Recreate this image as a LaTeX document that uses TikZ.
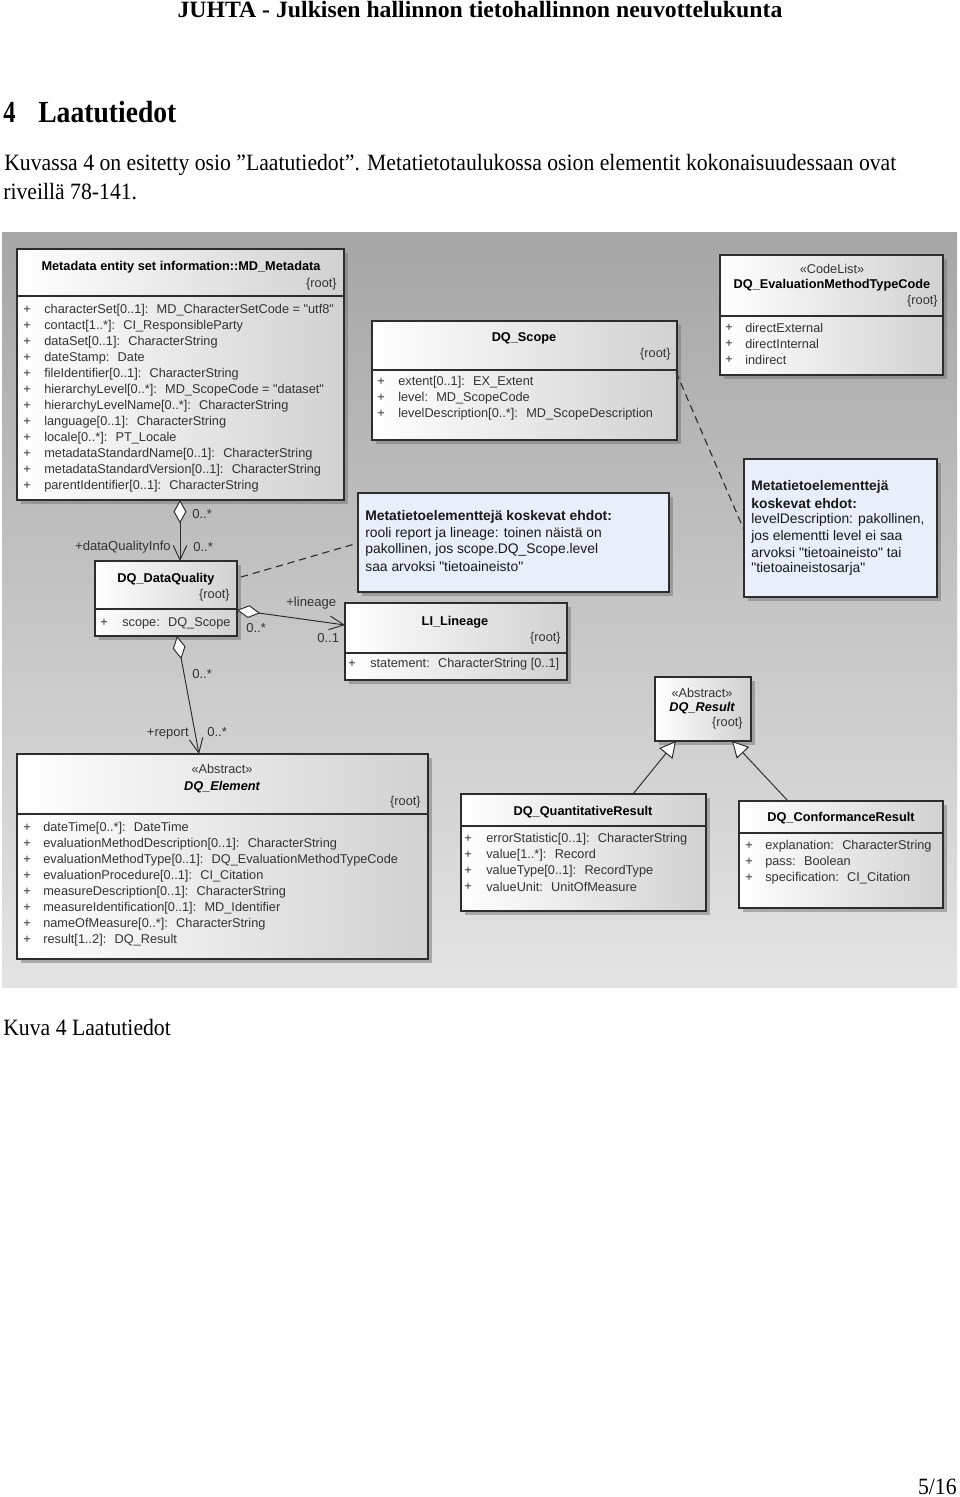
\documentclass[tikz,border=0pt]{standalone}
\usepackage{fontspec}
\setmainfont{Liberation Serif}
\newfontfamily\uml{Liberation Sans}
\usetikzlibrary{arrows.meta,shadows,fit,calc}
\definecolor{bgtop}{RGB}{166,166,166}
\definecolor{bgbot}{RGB}{228,228,228}
\definecolor{boxline}{RGB}{45,45,45}
\definecolor{notefill}{RGB}{232,238,250}
\definecolor{conn}{RGB}{45,45,45}
\newlength\lenone
\newcommand\umlattrs[5]{%
  \foreach \t [count=\i] in {#5} {
    \node[plus] (#1p\i) at (#2,{#4+16*(\i-1)}) {+};
    \node[attr] (#1a\i) at (#3,{#4+16*(\i-1)}) {\t};
  }}
\begin{document}
\settowidth\lenone{\fontsize{14.5pt}{17pt}\selectfont Kuvassa 4 on esitetty osio ”Laatutiedot”. Metatietotaulukossa osion elementit kokonaisuudessaan ovat}%
\pgfmathsetmacro\bsx{553/\lenone}%
\begin{tikzpicture}[x=0.62pt,y=-0.62pt,
  umlbox/.style={draw=boxline, line width=0.85pt, left color=white, right color=black!18, inner sep=0pt,
    drop shadow={shadow xshift=2.2pt, shadow yshift=-2.2pt, fill=black!55, opacity=0.5}},
  notebox/.style={draw=boxline, line width=0.85pt, fill=notefill, inner sep=0pt,
    drop shadow={shadow xshift=2.2pt, shadow yshift=-2.2pt, fill=black!55, opacity=0.5}},
  sep/.style={draw=boxline, line width=0.85pt},
  ut/.style={font=\uml\fontsize{7.9pt}{9.5pt}\selectfont, inner sep=0pt, text=black!80},
  attr/.style={ut, anchor=west},
  plus/.style={ut, anchor=center},
  ttl/.style={ut, anchor=center, font=\uml\bfseries\fontsize{7.9pt}{9.5pt}\selectfont, text=black},
  ttli/.style={ut, anchor=center, font=\uml\bfseries\itshape\fontsize{7.9pt}{9.5pt}\selectfont, text=black},
  stereo/.style={ut, anchor=center},
  root/.style={ut, anchor=east},
  lbl/.style={ut, font=\uml\fontsize{8.1pt}{9.5pt}\selectfont},
  notetxt/.style={font=\uml\fontsize{8.6pt}{10pt}\selectfont, anchor=west, inner sep=0pt, text=black!90},
  notebold/.style={notetxt, font=\uml\bfseries\fontsize{8.6pt}{10pt}\selectfont},
  pagetxt/.style={inner sep=0pt},
  conn/.style={draw=conn, line width=0.6pt},
  aggr/.style={conn, {Diamond[fill=white, length=14.5pt, width=8pt]}-{Straight Barb[length=9pt, width=8.5pt]}},
  gen/.style={conn, -{Triangle[fill=white, length=10pt, width=10.5pt]}},
  notelink/.style={conn, line width=0.7pt, dash pattern=on 4.5pt off 3pt}
]
\useasboundingbox (0,0) rectangle (960,1497);

% ---------- page text ----------
\node[pagetxt, anchor=center] (hdr) at (480,10) {\resizebox{375pt}{\height}{\fontsize{14.5pt}{17pt}\selectfont\bfseries JUHTA - Julkisen hallinnon tietohallinnon neuvottelukunta}};
\node[pagetxt, anchor=west] (hnum) at (3,112) {\resizebox{7.6pt}{\height}{\fontsize{19pt}{22pt}\selectfont\bfseries 4}};
\node[pagetxt, anchor=west] (htxt) at (38,112) {\resizebox{85.6pt}{\height}{\fontsize{19pt}{22pt}\selectfont\bfseries Laatutiedot}};
\node[pagetxt, anchor=west] (body1) at (4,165) {\scalebox{\bsx}[1]{\fontsize{14.5pt}{17pt}\selectfont Kuvassa 4 on esitetty osio ”Laatutiedot”. Metatietotaulukossa osion elementit kokonaisuudessaan ovat}};
\node[pagetxt, anchor=west] (body2) at (3,192) {\scalebox{\bsx}[1]{\fontsize{14.5pt}{17pt}\selectfont riveillä 78-141.}};
\node[pagetxt, anchor=west] (cap) at (3,1027) {\scalebox{\bsx}[1]{\fontsize{14.5pt}{17pt}\selectfont Kuva 4 Laatutiedot}};
\node[pagetxt, anchor=east] (pnum) at (957,1487) {\scalebox{\bsx}[1]{\fontsize{14.5pt}{17pt}\selectfont 5/16}};

% ---------- diagram background ----------
\shade[top color=bgtop, bottom color=bgbot] (2,232) rectangle (957,987);

% ---------- MD_Metadata ----------
\node[umlbox, fit={(17,249) (344,500)}] (md) {};
\draw[sep] (17,296) -- (344,296);
\node[ttl] (mdt) at (181,267) {Metadata entity set information::MD\_Metadata};
\node[root] (mdr) at (337,284) {\{root\}};
\umlattrs{md}{27}{44}{310}{{characterSet[0..1]:~ MD\_CharacterSetCode = "utf8"},{contact[1..*]:~ CI\_ResponsibleParty},{dataSet[0..1]:~ CharacterString},{dateStamp:~ Date},{fileIdentifier[0..1]:~ CharacterString},{hierarchyLevel[0..*]:~ MD\_ScopeCode = "dataset"},{hierarchyLevelName[0..*]:~ CharacterString},{language[0..1]:~ CharacterString},{locale[0..*]:~ PT\_Locale},{metadataStandardName[0..1]:~ CharacterString},{metadataStandardVersion[0..1]:~ CharacterString},{parentIdentifier[0..1]:~ CharacterString}}

% ---------- DQ_Scope ----------
\node[umlbox, fit={(372,321) (677,440)}] (sc) {};
\draw[sep] (372,370) -- (677,370);
\node[ttl] (sct) at (524,338) {DQ\_Scope};
\node[root] (scr) at (671,354) {\{root\}};
\umlattrs{sc}{381}{398}{382}{{extent[0..1]:~ EX\_Extent},{level:~ MD\_ScopeCode},{levelDescription[0..*]:~ MD\_ScopeDescription}}

% ---------- CodeList ----------
\node[umlbox, fit={(720,255) (943,375)}] (cl) {};
\draw[sep] (720,316) -- (943,316);
\node[stereo] (cls) at (832,269) {«CodeList»};
\node[ttl] (clt) at (832,285) {DQ\_EvaluationMethodTypeCode};
\node[root] (clr) at (938,301) {\{root\}};
\umlattrs{cl}{729}{745}{328}{{directExternal},{directInternal},{indirect}}

% ---------- Notes ----------
\node[notebox, fit={(358,493) (669,592)}] (n1) {};
\node[notebold] (n1a) at (365,517) {Metatietoelementtejä koskevat ehdot:};
\node[notetxt] (n1b) at (365,534) {rooli report ja lineage: toinen näistä on};
\node[notetxt] (n1c) at (365,550) {pakollinen, jos scope.DQ\_Scope.level};
\node[notetxt] (n1d) at (365,567) {saa arvoksi "tietoaineisto"};

\node[notebox, fit={(744,459) (937,597)}] (n2) {};
\node[notebold] (n2a) at (751,487) {Metatietoelementtejä};
\node[notebold] (n2b) at (751,504) {koskevat ehdot:};
\node[notetxt] (n2c) at (751,520) {levelDescription: pakollinen,};
\node[notetxt] (n2d) at (751,537) {jos elementti level ei saa};
\node[notetxt] (n2e) at (751,553) {arvoksi "tietoaineisto" tai};
\node[notetxt] (n2f) at (751,569) {"tietoaineistosarja"};

% ---------- DQ_DataQuality ----------
\node[umlbox, fit={(95,561) (237,636)}] (dq) {};
\draw[sep] (95,609) -- (237,609);
\node[ttl] (dqt) at (166,579) {DQ\_DataQuality};
\node[root] (dqr) at (230,595) {\{root\}};
\umlattrs{dq}{104}{122}{623}{{scope:~ DQ\_Scope}}

% ---------- LI_Lineage ----------
\node[umlbox, fit={(345,603) (567,680)}] (li) {};
\draw[sep] (345,653) -- (567,653);
\node[ttl] (lit) at (455,622) {LI\_Lineage};
\node[root] (lir) at (561,638) {\{root\}};
\umlattrs{li}{352}{370}{664}{{statement:~ CharacterString [0..1]}}

% ---------- DQ_Result ----------
\node[umlbox, fit={(655,677) (751,741)}] (res) {};
\node[stereo] (ress) at (702,693) {«Abstract»};
\node[ttli] (rest) at (702,708) {DQ\_Result};
\node[root] (resr) at (743,723) {\{root\}};

% ---------- DQ_Element ----------
\node[umlbox, fit={(17,754) (428,959)}] (el) {};
\draw[sep] (17,814) -- (428,814);
\node[stereo] (els) at (222,769) {«Abstract»};
\node[ttli] (elt) at (222,787) {DQ\_Element};
\node[root] (elr) at (421,802) {\{root\}};
\umlattrs{el}{27}{43}{828}{{dateTime[0..*]:~ DateTime},{evaluationMethodDescription[0..1]:~ CharacterString},{evaluationMethodType[0..1]:~ DQ\_EvaluationMethodTypeCode},{evaluationProcedure[0..1]:~ CI\_Citation},{measureDescription[0..1]:~ CharacterString},{measureIdentification[0..1]:~ MD\_Identifier},{nameOfMeasure[0..*]:~ CharacterString},{result[1..2]:~ DQ\_Result}}

% ---------- DQ_QuantitativeResult ----------
\node[umlbox, fit={(461,794) (706,911)}] (qr) {};
\draw[sep] (461,826) -- (706,826);
\node[ttl] (qrt) at (583,812) {DQ\_QuantitativeResult};
\umlattrs{qr}{468}{486}{839}{{errorStatistic[0..1]:~ CharacterString},{value[1..*]:~ Record},{valueType[0..1]:~ RecordType},{valueUnit:~ UnitOfMeasure}}

% ---------- DQ_ConformanceResult ----------
\node[umlbox, fit={(739,801) (943,908)}] (cr) {};
\draw[sep] (739,833) -- (943,833);
\node[ttl] (crt) at (841,818) {DQ\_ConformanceResult};
\umlattrs{cr}{749}{765}{846}{{explanation:~ CharacterString},{pass:~ Boolean},{specification:~ CI\_Citation}}

% ---------- connector end points ----------
\coordinate (md-dq) at (180,500);
\coordinate (dq-md) at (180,561);
\coordinate (dq-li) at (237,610);
\coordinate (li-dq) at (345,625);
\coordinate (dq-el) at (177,636);
\coordinate (el-dq) at (199,754);
\coordinate (dq-n1) at (241,577);
\coordinate (n1-dq) at (358,543);
\coordinate (sc-n2) at (676,372);
\coordinate (n2-sc) at (744,530);
\coordinate (qr-res) at (633,794);
\coordinate (res-qr) at (676,741);
\coordinate (cr-res) at (788,801);
\coordinate (res-cr) at (732,741);

% ---------- connectors ----------
\draw[aggr] (md-dq) -- (dq-md);
\draw[aggr] (dq-li) -- (li-dq);
\draw[aggr] (dq-el) -- (el-dq);
\draw[gen] (qr-res) -- (res-qr);
\draw[gen] (cr-res) -- (res-cr);
\draw[notelink] (dq-n1) -- (n1-dq);
\draw[notelink] (sc-n2) -- (n2-sc);

% ---------- connector labels ----------
\node[lbl, anchor=west] (l1) at (192,514) {0..*};
\node[lbl, anchor=east] (l2) at (171,547) {+dataQualityInfo};
\node[lbl, anchor=west] (l3) at (193,547) {0..*};
\node[lbl, anchor=west] (l4) at (286,603) {+lineage};
\node[lbl, anchor=west] (l5) at (246,628) {0..*};
\node[lbl, anchor=west] (l6) at (317,638) {0..1};
\node[lbl, anchor=west] (l7) at (192,674) {0..*};
\node[lbl, anchor=east] (l8) at (189,734) {+report};
\node[lbl, anchor=west] (l9) at (207,732) {0..*};
\end{tikzpicture}
\end{document}
